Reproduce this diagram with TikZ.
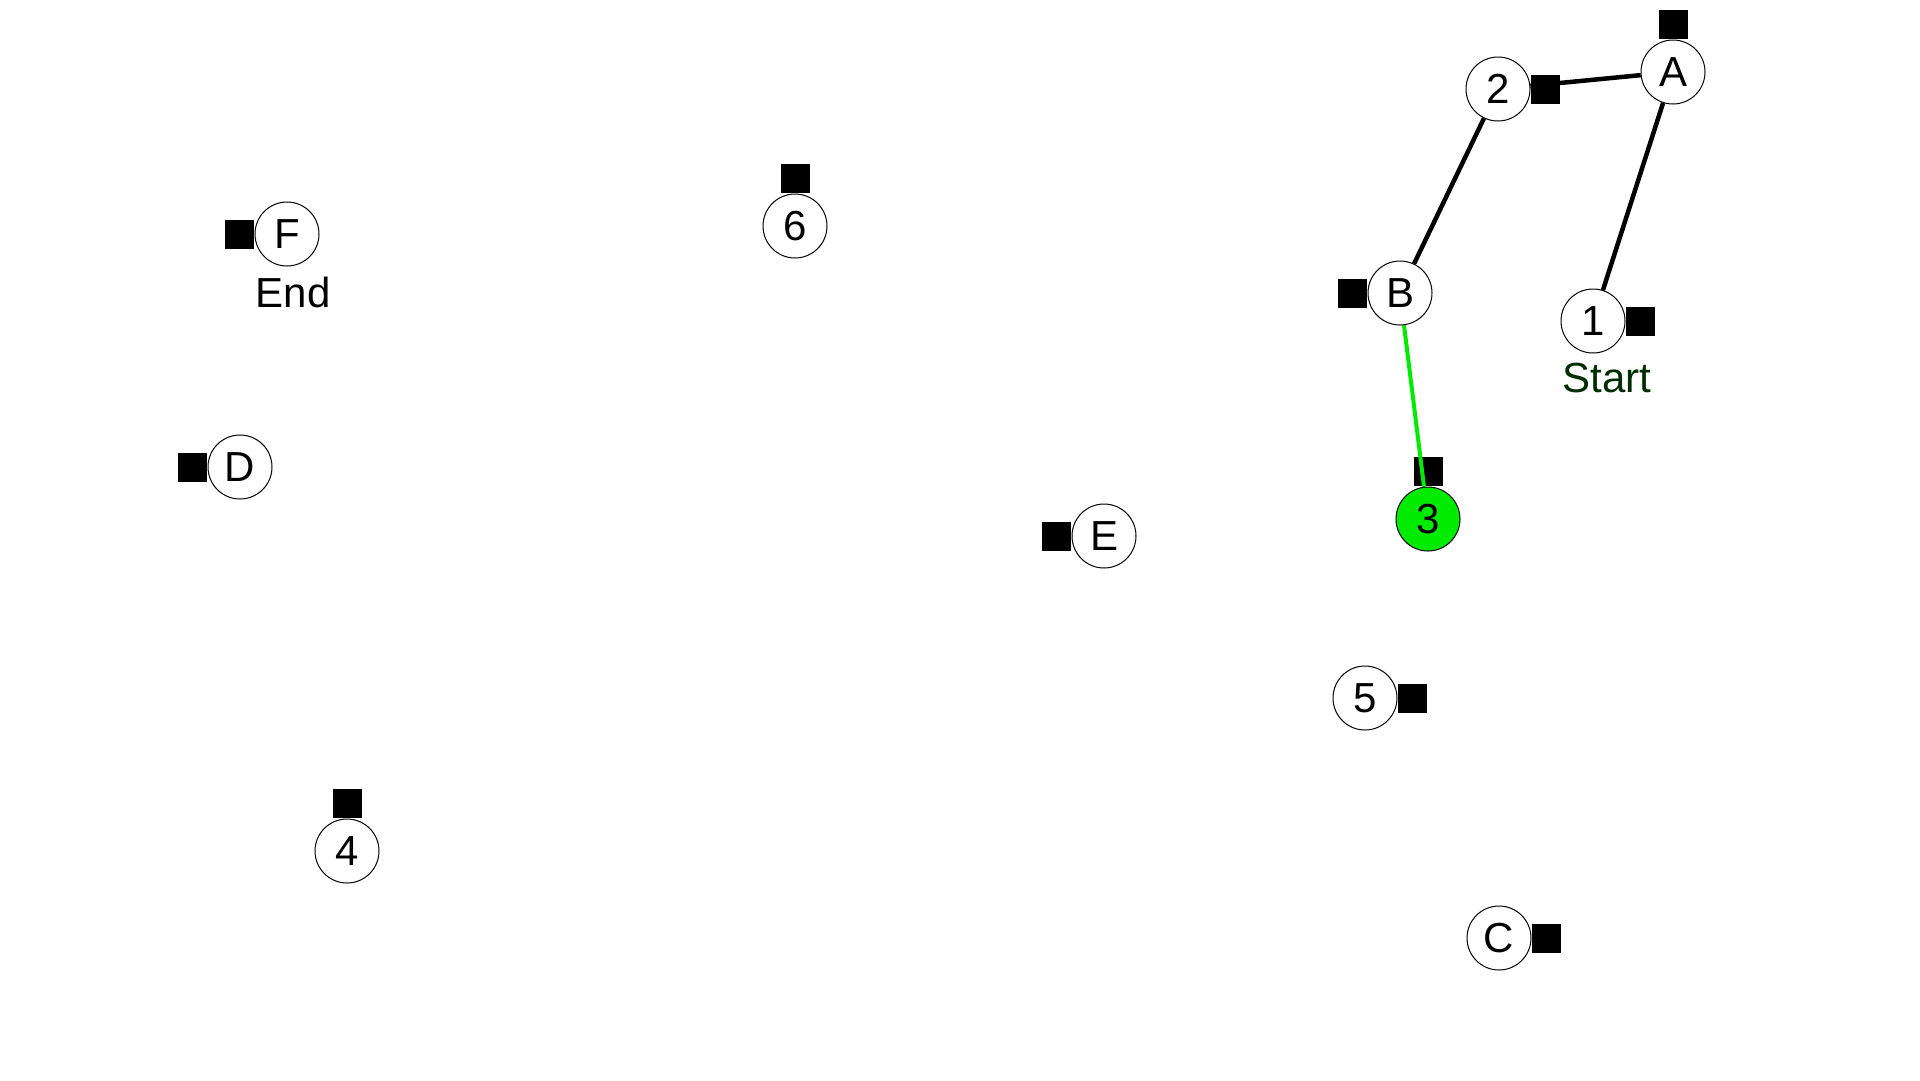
\documentclass[tikz,border=0pt]{standalone}
\usepackage{fontspec}
\setmainfont{Liberation Sans}
\usetikzlibrary{positioning}
\pgfdeclarelayer{bg}
\pgfdeclarelayer{mid}
\pgfsetlayers{bg,mid,main}
\definecolor{nodegreen}{RGB}{0,235,0}
\definecolor{startgreen}{RGB}{0,45,0}
\tikzset{
	vert/.style={circle, draw=black, line width=1pt, fill=white, minimum size=64pt, inner sep=0pt, font=\fontsize{42}{50}\selectfont},
	sq/.style={fill=black, minimum size=29pt, inner sep=0pt},
	edge/.style={line width=4.5pt, black},
	lbl/.style={inner sep=0pt, font=\fontsize{42}{50}\selectfont}
}
\begin{document}
\begin{tikzpicture}[x=1pt,y=-1pt]
		\useasboundingbox (0,0) rectangle (1920,1080);
		% vertices
		\node[vert] (nA) at (1673,72) {A};
		\node[vert] (n2) at (1498,89) {2};
		\node[vert] (nB) at (1400,293) {B};
		\node[vert] (n1) at (1593,321) {1};
		\node[vert, fill=nodegreen] (n3) at (1428,519) {3};
		\node[vert] (nE) at (1104,536) {E};
		\node[vert] (n5) at (1365,698) {5};
		\node[vert] (nC) at (1499,938) {C};
		\node[vert] (n4) at (347,851) {4};
		\node[vert] (nD) at (240,467) {D};
		\node[vert] (n6) at (795,226) {6};
		\node[vert] (nF) at (287,234) {F};
		\node[lbl, text=startgreen] (start) at (1607,378) {Start};
		\node[lbl] (end) at (293,292) {End};
		% markers
		\begin{pgfonlayer}{bg}
		\node[sq, above=0pt of nA] (sA) {};
		\node[sq, right=0pt of n2] (s2) {};
		\node[sq, left=0pt of nB] (sB) {};
		\node[sq, right=0pt of n1] (s1) {};
		\node[sq, above=0pt of n3] (s3) {};
		\node[sq, left=0pt of nE] (sE) {};
		\node[sq, right=0pt of n5] (s5) {};
		\node[sq, right=0pt of nC] (sC) {};
		\node[sq, above=0pt of n4] (s4) {};
		\node[sq, left=0pt of nD] (sD) {};
		\node[sq, above=0pt of n6] (s6) {};
		\node[sq, left=0pt of nF] (sF) {};
		\end{pgfonlayer}
		% path
		\begin{pgfonlayer}{mid}
		\draw[edge] (n1)--(nA);
		\draw[edge] (nA)--(n2);
		\draw[edge] (n2)--(nB);
		\draw[edge, nodegreen, line width=4pt] (nB)--(n3);
		\end{pgfonlayer}
	\end{tikzpicture}
\end{document}
